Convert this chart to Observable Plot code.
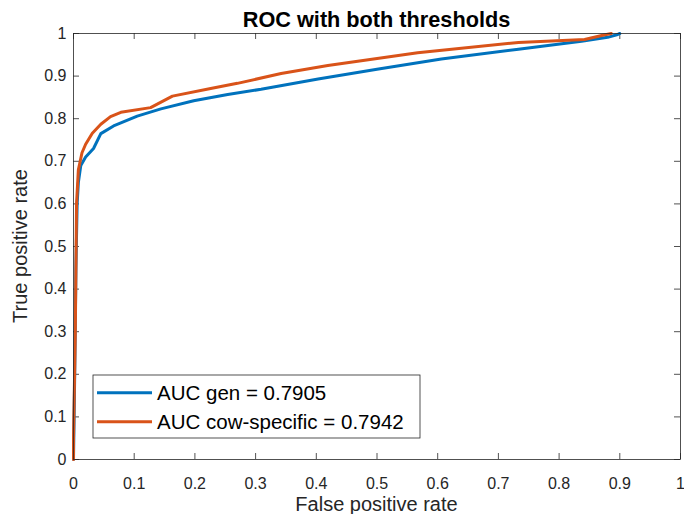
<!DOCTYPE html>
<html>
<head>
<meta charset="utf-8">
<script src="https://cdn.jsdelivr.net/npm/d3@7"></script>
<script src="https://cdn.jsdelivr.net/npm/@observablehq/plot@0.6"></script>
<style>
  html, body { margin: 0; padding: 0; background: #fff; }
  #chart { width: 684px; height: 514px; position: relative; }
  svg { font-family: "Liberation Sans", Arial, Helvetica, sans-serif; }
</style>
</head>
<body>
<div id="chart"></div>
<script>
const titleText = "ROC with both thresholds";
const xLabel = "False positive rate";
const yLabel = "True positive rate";
const seriesNames = ["AUC gen = 0.7905", "AUC cow-specific = 0.7942"];
const seriesColors = ["#0072BD", "#D95319"];
const xTicks = [0, 0.1, 0.2, 0.3, 0.4, 0.5, 0.6, 0.7, 0.8, 0.9, 1];
const yTicks = [0, 0.1, 0.2, 0.3, 0.4, 0.5, 0.6, 0.7, 0.8, 0.9, 1];

// ROC gen (FPR, TPR)
const genFPR = [0, 0.002, 0.004, 0.006, 0.008, 0.012, 0.02, 0.033, 0.045, 0.066, 0.105, 0.144, 0.198, 0.254, 0.309, 0.403, 0.5, 0.606, 0.733, 0.837, 0.88, 0.895, 0.9];
const genTPR = [0, 0.2, 0.45, 0.6, 0.65, 0.69, 0.71, 0.73, 0.765, 0.783, 0.806, 0.823, 0.842, 0.857, 0.869, 0.893, 0.916, 0.94, 0.963, 0.982, 0.991, 0.997, 1.0];
// ROC cow-specific (FPR, TPR)
const cowFPR = [0, 0, 0.003, 0.005, 0.008, 0.014, 0.02, 0.031, 0.045, 0.061, 0.078, 0.127, 0.163, 0.226, 0.27, 0.342, 0.419, 0.567, 0.733, 0.842, 0.872, 0.886];
const cowTPR = [0, 0.05, 0.3, 0.6, 0.68, 0.72, 0.74, 0.766, 0.787, 0.805, 0.815, 0.826, 0.853, 0.871, 0.883, 0.906, 0.925, 0.955, 0.979, 0.986, 0.996, 1.0];

const gen = genFPR.map((x, i) => ({x, y: genTPR[i]}));
const cow = cowFPR.map((x, i) => ({x, y: cowTPR[i]}));

const W = 684, H = 514;
const mL = 73, mR = 4, mT = 33, mB = 55;
const innerW = W - mL - mR, innerH = H - mT - mB;
const tickLen = 6;
const axisColor = "#262626";

const plot = Plot.plot({
  width: W, height: H,
  marginLeft: mL, marginRight: mR, marginTop: mT, marginBottom: mB,
  style: {fontFamily: '"Liberation Sans", Arial, Helvetica, sans-serif', background: "#fff"},
  x: {domain: [0, 1]},
  y: {domain: [0, 1]},
  marks: [
    Plot.axisX({ticks: xTicks, tickSize: 0, tickPadding: 18, fontSize: 16, label: null, tickFormat: d => String(d), color: axisColor}),
    Plot.axisY({ticks: yTicks, tickSize: 0, tickPadding: 7, fontSize: 16, label: null, tickFormat: d => String(d), color: axisColor}),
    Plot.tickX(xTicks, {x: d => d, insetTop: innerH - tickLen, stroke: axisColor, strokeWidth: 0.8}),
    Plot.tickX(xTicks, {x: d => d, insetBottom: innerH - tickLen, stroke: axisColor, strokeWidth: 0.8}),
    Plot.tickY(yTicks, {y: d => d, insetRight: innerW - tickLen, stroke: axisColor, strokeWidth: 0.8}),
    Plot.tickY(yTicks, {y: d => d, insetLeft: innerW - tickLen, stroke: axisColor, strokeWidth: 0.8}),
    Plot.line(gen, {x: "x", y: "y", stroke: seriesColors[0], strokeWidth: 3, strokeLinejoin: "round"}),
    Plot.line(cow, {x: "x", y: "y", stroke: seriesColors[1], strokeWidth: 3, strokeLinejoin: "round"}),
    Plot.frame({stroke: axisColor, strokeWidth: 0.8})
  ]
});
document.getElementById("chart").appendChild(plot);

const svg = d3.select(plot);
const ff = '"Liberation Sans", Arial, Helvetica, sans-serif';
const cx = mL + innerW / 2;
svg.append("text").attr("x", cx).attr("y", 26.5).attr("text-anchor", "middle")
  .attr("font-family", ff).attr("font-size", 21.7).attr("font-weight", "bold").attr("fill", "#000").text(titleText);
svg.append("text").attr("x", cx).attr("y", 511).attr("text-anchor", "middle")
  .attr("font-family", ff).attr("font-size", 20).attr("fill", axisColor).text(xLabel);
svg.append("text").attr("transform", `translate(27,${mT + innerH / 2}) rotate(-90)`).attr("text-anchor", "middle")
  .attr("font-family", ff).attr("font-size", 20).attr("fill", axisColor).text(yLabel);

// legend
const lg = svg.append("g");
lg.append("rect").attr("x", 93).attr("y", 375).attr("width", 327).attr("height", 63)
  .attr("fill", "#fff").attr("stroke", axisColor).attr("stroke-width", 0.8);
seriesNames.forEach((name, i) => {
  const yy = 392.7 + i * 29;
  lg.append("line").attr("x1", 97).attr("x2", 152).attr("y1", yy).attr("y2", yy)
    .attr("stroke", seriesColors[i]).attr("stroke-width", 3);
  lg.append("text").attr("x", 157).attr("y", yy + 7.3).attr("text-anchor", "start").attr("font-family", ff)
    .attr("font-size", 20.5).attr("fill", "#000").text(name);
});
</script>
</body>
</html>
